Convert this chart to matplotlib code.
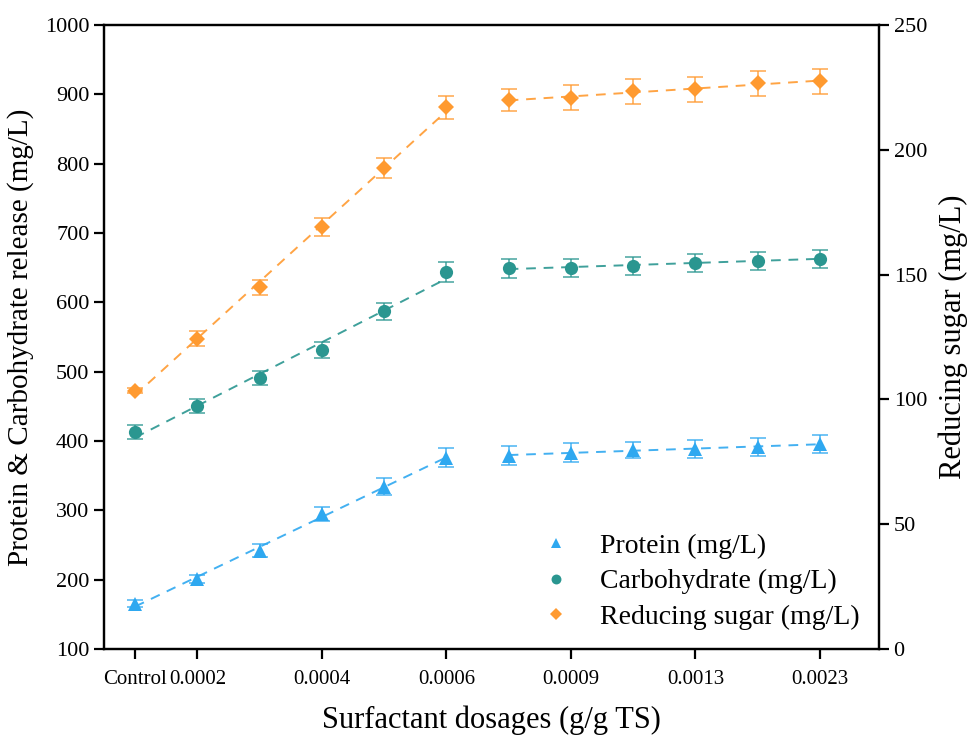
import numpy as np
import matplotlib
matplotlib.use('Agg')
import matplotlib.pyplot as plt
from matplotlib.lines import Line2D

plt.rcParams['font.family'] = ['Liberation Serif', 'DejaVu Serif']

# dosage categories (12 points, only some labelled)
positions = np.arange(12)
tick_pos = [0, 1, 3, 5, 7, 9, 11]
tick_labels = ['Control', '0.0002', '0.0004', '0.0006', '0.0009', '0.0013', '0.0023']

protein = [165, 201, 242, 295, 334, 376, 379, 383, 387, 389, 392, 395]
protein_err = [5, 6, 10, 10, 12, 14, 14, 14, 12, 13, 13, 13]

carbohydrate = [413, 451, 491, 531, 587, 644, 649, 650, 653, 657, 660, 663]
carbohydrate_err = [10, 10, 10, 12, 12, 14, 14, 13, 13, 13, 13, 13]

sugar = [103.5, 124.3, 145, 169, 192.6, 217, 220, 220.8, 223.5, 224.2, 226.6, 227.5]
sugar_err = [1, 3, 3, 3.5, 4, 4.5, 4.5, 5, 5, 5, 5, 5]

C_PROT = '#2ea8f0'
C_CARB = '#2a9690'
C_SUG = '#ff9a30'


def draw_series(ax, y, err, color, marker, ms):
    y = np.asarray(y, dtype=float)
    ax.errorbar(positions, y, yerr=err, fmt='none', ecolor=color, alpha=0.8,
                elinewidth=1.2, capsize=6, capthick=1.2, zorder=2)
    ax.plot(positions, y, ls='none', marker=marker, ms=ms, color=color,
            markeredgewidth=0, zorder=3)
    # two linear fits: first six dosages and the rest
    for seg in (slice(0, 6), slice(6, 12)):
        xs = positions[seg]
        k, b = np.polyfit(xs, y[seg], 1)
        ax.plot(xs, k * xs + b, ls=(0, (5, 4)), lw=1.4, color=color,
                alpha=0.9, zorder=2)


fig = plt.figure(figsize=(9.74, 7.4), dpi=100)
ax = fig.add_axes([0.1068, 0.123, 0.7957, 0.8432])
ax2 = ax.twinx()

draw_series(ax, protein, protein_err, C_PROT, '^', 10)
draw_series(ax, carbohydrate, carbohydrate_err, C_CARB, 'o', 9.5)
draw_series(ax2, sugar, sugar_err, C_SUG, 'D', 8)

ax.set_xlim(-0.5, 11.95)
ax.set_ylim(100, 1000)
ax.set_yticks(np.arange(100, 1001, 100))
ax2.set_ylim(0, 250)
ax2.set_yticks(np.arange(0, 251, 50))
ax.set_xticks(tick_pos)
ax.set_xticklabels(tick_labels)

for a in (ax, ax2):
    for s in a.spines.values():
        s.set_linewidth(1.6)
    a.tick_params(direction='out', length=7, width=1.6, labelsize=16)
ax.tick_params(axis='x', pad=8, labelsize=15)

ax.set_xlabel('Surfactant dosages (g/g TS)', fontsize=22, labelpad=12)
ax.set_ylabel('Protein & Carbohydrate release (mg/L)', fontsize=21, labelpad=8)
ax2.set_ylabel('Reducing sugar (mg/L)', fontsize=22, labelpad=8)

handles = [
    Line2D([], [], ls='none', marker='^', ms=10, color=C_PROT, markeredgewidth=0),
    Line2D([], [], ls='none', marker='o', ms=9.5, color=C_CARB, markeredgewidth=0),
    Line2D([], [], ls='none', marker='D', ms=8, color=C_SUG, markeredgewidth=0),
]
labels = ['Protein (mg/L)', 'Carbohydrate (mg/L)', 'Reducing sugar (mg/L)']
ax2.legend(handles, labels, loc='lower right', frameon=False, fontsize=20,
           markerscale=0.75, handletextpad=0.6, labelspacing=0.35,
           borderaxespad=0.3)

fig.savefig('out.png', dpi=100)
